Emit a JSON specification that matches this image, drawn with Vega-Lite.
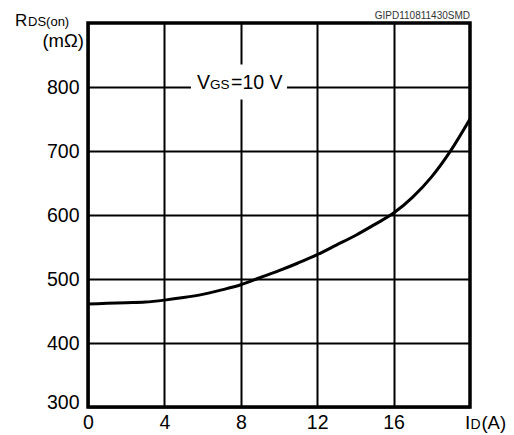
{
  "$schema": "https://vega.github.io/schema/vega-lite/v6.json",
  "width": 382,
  "height": 384,
  "autosize": "none",
  "padding": {"left": 88, "top": 23, "right": 44, "bottom": 28},
  "background": "white",
  "config": {
    "view": {"stroke": "black", "strokeWidth": 3.5},
    "axis": {
      "labelFont": "Liberation Sans",
      "labelFontSize": 19.5,
      "labelColor": "black",
      "domain": false,
      "ticks": false,
      "grid": true,
      "gridColor": "black",
      "gridWidth": 2,
      "gridOpacity": 1,
      "title": null
    },
    "text": {"font": "Liberation Sans", "color": "black"}
  },
  "datasets": {
    "curve": [
      {"id": 0, "rds": 461},
      {"id": 1, "rds": 462},
      {"id": 2, "rds": 463},
      {"id": 3, "rds": 464},
      {"id": 4, "rds": 467},
      {"id": 5, "rds": 471},
      {"id": 6, "rds": 476},
      {"id": 7, "rds": 483},
      {"id": 8, "rds": 491},
      {"id": 9, "rds": 502},
      {"id": 10, "rds": 513},
      {"id": 11, "rds": 525},
      {"id": 12, "rds": 538},
      {"id": 13, "rds": 553},
      {"id": 14, "rds": 568},
      {"id": 15, "rds": 585},
      {"id": 16, "rds": 603},
      {"id": 17, "rds": 628},
      {"id": 18, "rds": 660},
      {"id": 19, "rds": 701},
      {"id": 20, "rds": 750}
    ],
    "one": [{"k": 1}]
  },
  "layer": [
    {
      "data": {"name": "curve"},
      "mark": {"type": "rule", "opacity": 0},
      "encoding": {
        "x": {"field": "id", "type": "quantitative", "scale": {"domain": [0, 20], "nice": false},
          "axis": {"values": [0, 4, 8, 12, 16], "labelPadding": 6, "labelFlush": false}},
        "y": {"field": "rds", "type": "quantitative", "scale": {"domain": [300, 900], "nice": false, "zero": false},
          "axis": {"values": [300, 400, 500, 600, 700, 800], "labelPadding": 9, "labelFlush": true, "labelFlushOffset": 5}}
      }
    },
    {
      "data": {"name": "one"},
      "mark": {"type": "rect", "fill": "white"},
      "encoding": {
        "x": {"datum": 5.39, "type": "quantitative"},
        "x2": {"datum": 10.42},
        "y": {"datum": 780.5, "type": "quantitative"},
        "y2": {"datum": 835}
      }
    },
    {
      "data": {"name": "curve"},
      "mark": {"type": "line", "color": "black", "strokeWidth": 3, "interpolate": "monotone", "clip": true},
      "encoding": {
        "x": {"field": "id", "type": "quantitative"},
        "y": {"field": "rds", "type": "quantitative"}
      }
    },
    {
      "data": {"name": "one"},
      "mark": {"type": "text", "text": "V", "fontSize": 19.5, "align": "left", "baseline": "alphabetic", "clip": false},
      "encoding": {"x": {"datum": 5.707, "type": "quantitative"}, "y": {"datum": 797, "type": "quantitative"}}
    },
    {
      "data": {"name": "one"},
      "mark": {"type": "text", "text": "GS", "fontSize": 13.5, "align": "left", "baseline": "alphabetic", "clip": false},
      "encoding": {"x": {"datum": 6.39, "type": "quantitative"}, "y": {"datum": 797, "type": "quantitative"}}
    },
    {
      "data": {"name": "one"},
      "mark": {"type": "text", "text": "=10 V", "fontSize": 19.5, "align": "left", "baseline": "alphabetic", "clip": false},
      "encoding": {"x": {"datum": 7.49, "type": "quantitative"}, "y": {"datum": 797, "type": "quantitative"}}
    },
    {
      "data": {"name": "one"},
      "mark": {"type": "text", "text": "R", "fontSize": 17, "align": "left", "baseline": "alphabetic", "clip": false},
      "encoding": {"x": {"datum": -3.82, "type": "quantitative"}, "y": {"datum": 895.3, "type": "quantitative"}}
    },
    {
      "data": {"name": "one"},
      "mark": {"type": "text", "text": "DS(on)", "fontSize": 13, "align": "left", "baseline": "alphabetic", "clip": false},
      "encoding": {"x": {"datum": -3.14, "type": "quantitative"}, "y": {"datum": 895.3, "type": "quantitative"}}
    },
    {
      "data": {"name": "one"},
      "mark": {"type": "text", "text": "(mΩ)", "fontSize": 18.5, "align": "right", "baseline": "alphabetic", "clip": false},
      "encoding": {"x": {"datum": -0.21, "type": "quantitative"}, "y": {"datum": 862.5, "type": "quantitative"}}
    },
    {
      "data": {"name": "one"},
      "mark": {"type": "text", "text": "GIPD110811430SMD", "fontSize": 10, "color": "#333333", "align": "right", "baseline": "alphabetic", "clip": false},
      "encoding": {"x": {"datum": 20, "type": "quantitative"}, "y": {"datum": 905.8, "type": "quantitative"}}
    },
    {
      "data": {"name": "one"},
      "mark": {"type": "text", "text": "I", "fontSize": 19, "align": "left", "baseline": "alphabetic", "clip": false},
      "encoding": {"x": {"datum": 19.74, "type": "quantitative"}, "y": {"datum": 265.6, "type": "quantitative"}}
    },
    {
      "data": {"name": "one"},
      "mark": {"type": "text", "text": "D", "fontSize": 14, "align": "left", "baseline": "alphabetic", "clip": false},
      "encoding": {"x": {"datum": 20.03, "type": "quantitative"}, "y": {"datum": 265.6, "type": "quantitative"}}
    },
    {
      "data": {"name": "one"},
      "mark": {"type": "text", "text": "(A)", "fontSize": 18.5, "align": "left", "baseline": "alphabetic", "clip": false},
      "encoding": {"x": {"datum": 20.6, "type": "quantitative"}, "y": {"datum": 265.6, "type": "quantitative"}}
    }
  ]
}
